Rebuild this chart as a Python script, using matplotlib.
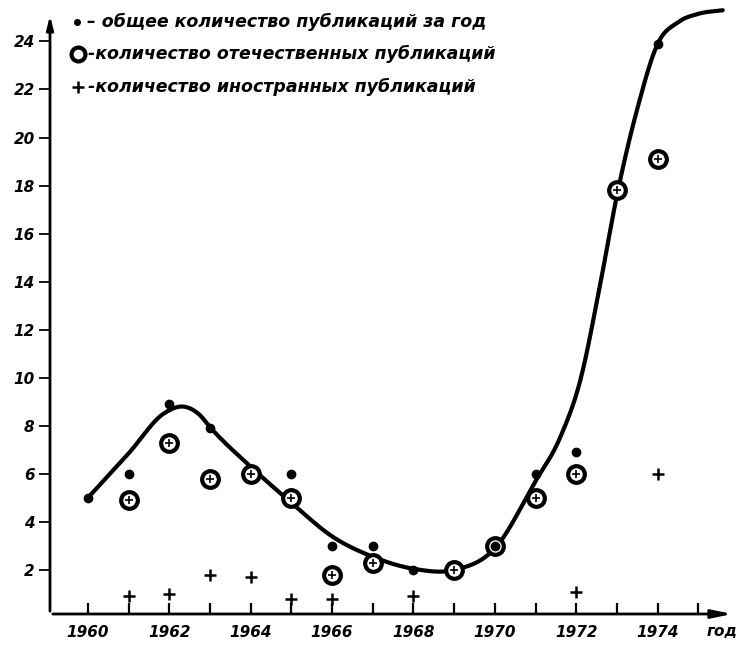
"""Рост числа публикаций по годам (1960-1975)"""
import numpy as np
import matplotlib
matplotlib.use('Agg')
import matplotlib.pyplot as plt

plt.rcParams['font.family'] = ['DejaVu Sans']

# --- данные ---
total_years = [1960, 1961, 1962, 1963, 1965, 1966, 1967, 1968, 1970, 1971, 1972, 1974]
total_vals = [5.0, 6.0, 8.9, 7.9, 6.0, 3.0, 3.0, 2.0, 3.0, 6.0, 6.9, 23.9]

dom_years = [1961, 1962, 1963, 1964, 1965, 1966, 1967, 1969, 1970, 1971, 1972, 1973, 1974]
dom_vals = [4.9, 7.3, 5.8, 6.0, 5.0, 1.8, 2.3, 2.0, 3.0, 5.0, 6.0, 17.8, 19.1]

for_years = [1961, 1962, 1963, 1964, 1965, 1966, 1968, 1972, 1974]
for_vals = [0.9, 1.0, 1.8, 1.7, 0.8, 0.8, 0.9, 1.1, 6.0]

# опорные точки сглаженной кривой
curve_x = [1960, 1961, 1961.9, 1962.35, 1962.75, 1963, 1964, 1965, 1966, 1967, 1968, 1969, 1970,
           1971, 1971.6, 1972.1, 1972.6, 1973, 1973.5, 1974, 1974.5, 1975, 1975.6]
curve_y = [5.0, 6.85, 8.55, 8.8, 8.45, 7.95, 6.3, 4.8, 3.4, 2.55, 2.05, 2.0, 2.9,
           5.7, 7.5, 9.9, 14.0, 17.6, 21.2, 23.9, 24.8, 25.15, 25.3]

year_ticks = [1960, 1962, 1964, 1966, 1968, 1970, 1972, 1974]
val_ticks = [2, 4, 6, 8, 10, 12, 14, 16, 18, 20, 22, 24]

legend_lines = ['– общее количество публикаций за год',
                '-количество отечественных публикаций',
                '-количество иностранных публикаций']


def hermite(xs, ys, n=25):
    # кубическая эрмитова кривая через опорные точки
    xs = np.asarray(xs, float); ys = np.asarray(ys, float)
    m = np.gradient(ys, xs)
    ox, oy = [], []
    t = np.linspace(0, 1, n, endpoint=False)
    for i in range(len(xs)-1):
        h = xs[i+1] - xs[i]
        h00 = 2*t**3 - 3*t**2 + 1; h10 = t**3 - 2*t**2 + t
        h01 = -2*t**3 + 3*t**2; h11 = t**3 - t**2
        ox.extend(xs[i] + h*t)
        oy.extend(h00*ys[i] + h10*h*m[i] + h01*ys[i+1] + h11*h*m[i+1])
    ox.append(xs[-1]); oy.append(ys[-1])
    return np.array(ox), np.array(oy)


fig = plt.figure(figsize=(7.45, 6.45), dpi=100)
ax = fig.add_axes([50/745, 1-614/645, 685/745, 611/645])
ax.set_xlim(1959.07, 1975.9)
ax.set_ylim(0.167, 25.6)
for s in ax.spines.values():
    s.set_visible(False)

# оси со стрелками
ax.annotate('', xy=(1975.9, 0.167), xytext=(1959.07, 0.167),
            arrowprops=dict(arrowstyle='-|>,head_length=1.2,head_width=0.25', lw=2, color='black'),
            annotation_clip=False)
ax.annotate('', xy=(1959.07, 25.2), xytext=(1959.07, 0.167),
            arrowprops=dict(arrowstyle='-|>,head_length=0.8,head_width=0.2', lw=2, color='black'),
            annotation_clip=False)

ax.set_xticks(year_ticks)
ax.set_xticks(range(1961, 1976, 2), minor=True)
ax.set_xticklabels([str(y) for y in year_ticks], fontsize=11, fontstyle='italic', fontweight='bold')
ax.tick_params(axis='x', which='both', direction='in', length=8, width=1.6, pad=8)
ax.set_yticks(val_ticks)
ax.set_yticklabels([str(v) for v in val_ticks], fontsize=11, fontstyle='italic', fontweight='bold')
ax.tick_params(axis='y', direction='out', length=8, width=1.3, pad=3)

cx, cy = hermite(curve_x, curve_y)
ax.plot(cx, cy, color='black', lw=3, solid_capstyle='round', zorder=2)

ax.plot(total_years, total_vals, 'o', color='black', markersize=6, zorder=4)
ax.plot(dom_years, dom_vals, 'o', mfc='white', mec='black', mew=3, markersize=12, zorder=3)
ax.plot(dom_years, dom_vals, '+', color='black', mew=1.2, markersize=6, zorder=3)
ax.plot(for_years, for_vals, '+', color='black', mew=1.8, markersize=9, zorder=3)

ax.text(1975.95, -0.25, 'год', fontsize=11, fontstyle='italic', fontweight='bold',
        ha='right', va='top')

# легенда
lx = [77/745, 78/745, 78/745]
ly = [1-22/645, 1-54/645, 1-87/645]
fig.lines.append(plt.Line2D([lx[0]], [ly[0]], marker='o', color='black', markersize=4,
                            transform=fig.transFigure))
fig.lines.append(plt.Line2D([lx[1]], [ly[1]], marker='o', mfc='white', mec='black', mew=3,
                            markersize=10, transform=fig.transFigure))
fig.lines.append(plt.Line2D([lx[2]], [ly[2]], marker='+', color='black', mew=1.8, markersize=9,
                            transform=fig.transFigure))
for x0, y0, t in zip(lx, ly, legend_lines):
    fig.text(x0 + 10/745, y0, t, fontsize=12.5, fontstyle='italic', fontweight='bold',
             va='center', ha='left')

fig.savefig('out.png', dpi=100)
